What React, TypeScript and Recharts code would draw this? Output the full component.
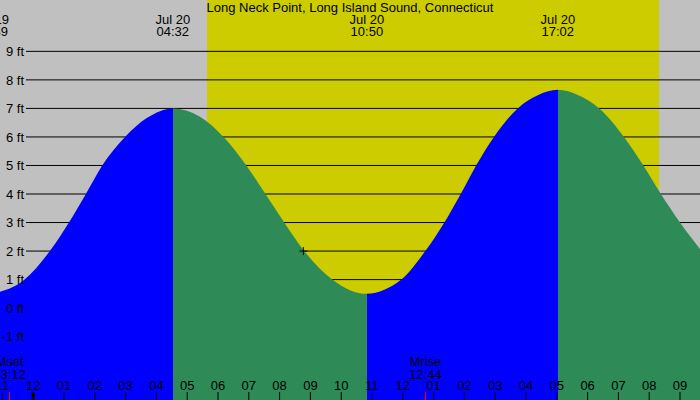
import React from "react";
import { ComposedChart, Area, XAxis, YAxis, CartesianGrid, ReferenceDot } from "recharts";

const FONT = "'Liberation Sans', Arial, Helvetica, sans-serif";
const GRAY = "#c0c0c0";
const YELLOW = "#cccc00";
const BLUE = "#0000ff";
const GREEN = "#2e8b57";

// hours since midnight Jul 20 (negative = Jul 19)
const sampleHours = [-1.35, -0.28, 0.54, 1.16, 1.71, 2.24, 2.98, 3.7, 4.533, 5.4, 6.18, 6.92, 7.54, 8.15, 8.8, 9.71, 10.3, 10.833, 11.4, 11.95, 12.73, 13.35, 13.88, 14.38, 14.96, 15.73, 16.4, 17.033, 17.7, 18.38, 19.18, 19.81, 20.38, 21.0, 21.65];
const sampleFeet = [0.5, 1.0, 2.0, 3.0, 4.0, 5.0, 6.0, 6.67, 7.0, 6.72, 6.0, 5.0, 4.0, 3.0, 2.0, 1.0, 0.62, 0.5, 0.64, 1.0, 2.0, 3.0, 4.0, 5.0, 6.0, 7.0, 7.47, 7.65, 7.46, 7.0, 6.0, 5.0, 4.0, 3.0, 2.07];

const tideHours = [-1.35, 4.533, 10.833, 17.033];
const tideKinds = ["low", "high", "low", "high"];
const tideDates = ["Jul 19", "Jul 20", "Jul 20", "Jul 20"];
const tideTimes = ["22:39", "04:32", "10:50", "17:02"];

const moonHours = [-0.77, 12.733];
const moonNames = ["Mset", "Mrise"];
const moonTimes = ["23:12", "12:44"];

const sunrise = 5.65;
const sunset = 20.32;

const nowHour = 8.77;
const nowFeet = 2.0;

const hourTicks = [-1, 0, 1, 2, 3, 4, 5, 6, 7, 8, 9, 10, 11, 12, 13, 14, 15, 16, 17, 18, 19, 20, 21];
const feetTicks = [-1, 0, 1, 2, 3, 4, 5, 6, 7, 8, 9];

const X_DOMAIN = [-1.078, 21.649];
const Y_DOMAIN = [-3.22, 10.8];

const data = sampleHours.map((h, i) => ({ h, ft: sampleFeet[i] }));

const hMin = sampleHours[0];
const hMax = sampleHours[sampleHours.length - 1];
const off = (h: number) => Math.min(1, Math.max(0, (h - hMin) / (hMax - hMin)));

const stops: { offset: number; color: string }[] = [];
tideHours.forEach((t, i) => {
  const color = tideKinds[i] === "low" ? BLUE : GREEN;
  const end = i + 1 < tideHours.length ? tideHours[i + 1] : hMax;
  stops.push({ offset: off(t), color });
  stops.push({ offset: off(end), color });
});

const fmtHour = (h: number) => {
  const v = ((h % 12) + 12) % 12;
  return String(v === 0 ? 12 : v).padStart(2, "0");
};

function HourTick(props: any) {
  const { x, payload } = props;
  const midnight = payload.value % 24 === 0;
  return (
    <g>
      <text x={x} y={390} textAnchor="middle" fontSize={13} fill="#000" fontFamily={FONT}>
        {fmtHour(payload.value)}
      </text>
      <line x1={x} x2={x} y1={392} y2={400} stroke="#000" strokeWidth={midnight ? 3 : 1} />
    </g>
  );
}

function MoonTick(props: any) {
  const { x, payload } = props;
  const i = moonHours.indexOf(payload.value);
  return (
    <g>
      <text x={x} y={366} textAnchor="middle" fontSize={13} fill="#000" fontFamily={FONT}>
        {moonNames[i]}
      </text>
      <text x={x} y={378.5} textAnchor="middle" fontSize={13} fill="#000" fontFamily={FONT}>
        {moonTimes[i]}
      </text>
      <line x1={x} x2={x} y1={392} y2={400} stroke="#ff0000" strokeWidth={1} />
    </g>
  );
}

function TideTick(props: any) {
  const { x, payload } = props;
  const i = tideHours.indexOf(payload.value);
  return (
    <g>
      <text x={x} y={24.3} textAnchor="middle" fontSize={13} fill="#000" fontFamily={FONT}>
        {tideDates[i]}
      </text>
      <text x={x} y={36} textAnchor="middle" fontSize={13} fill="#000" fontFamily={FONT}>
        {tideTimes[i]}
      </text>
    </g>
  );
}

function FeetTick(props: any) {
  const { y, payload } = props;
  return (
    <text x={24} y={y + 4.7} textAnchor="end" fontSize={13} fill="#000" fontFamily={FONT}>
      {payload.value} ft
    </text>
  );
}

const Cross = (props: any) => {
  const { cx, cy } = props;
  return (
    <g>
      <line x1={cx - 4} x2={cx + 4} y1={cy} y2={cy} stroke="#000" strokeWidth={1} />
      <line x1={cx} x2={cx} y1={cy - 4} y2={cy + 4} stroke="#000" strokeWidth={1} />
    </g>
  );
};

export default function App() {
  return (
    <div style={{ position: "absolute", left: 0, top: 0, width: 700, height: 400 }}>
      <ComposedChart width={700} height={400} data={data} margin={{ top: 0, right: 0, bottom: 0, left: 0 }}>
        <defs>
          <linearGradient id="tideFill" x1="0" y1="0" x2="1" y2="0">
            {stops.map((s, i) => (
              <stop key={i} offset={s.offset} stopColor={s.color} />
            ))}
          </linearGradient>
        </defs>
        <CartesianGrid
          horizontal={false}
          vertical
          verticalValues={[sunrise, sunset]}
          verticalFill={[GRAY, YELLOW, GRAY]}
          stroke="none"
        />
        <CartesianGrid vertical={false} horizontalValues={feetTicks} stroke="#000" x={26} width={674} />
        <XAxis
          dataKey="h"
          type="number"
          domain={X_DOMAIN}
          allowDataOverflow
          ticks={hourTicks}
          interval={0}
          mirror
          axisLine={false}
          tickLine={false}
          tick={HourTick}
        />
        <XAxis
          xAxisId="moon"
          dataKey="h"
          type="number"
          domain={X_DOMAIN}
          allowDataOverflow
          ticks={moonHours}
          interval={0}
          mirror
          axisLine={false}
          tickLine={false}
          tick={MoonTick}
        />
        <XAxis
          xAxisId="tides"
          orientation="top"
          dataKey="h"
          type="number"
          domain={X_DOMAIN}
          allowDataOverflow
          ticks={tideHours}
          interval={0}
          mirror
          axisLine={false}
          tickLine={false}
          tick={TideTick}
        />
        <Area
          type="monotone"
          dataKey="ft"
          stroke="none"
          fill="url(#tideFill)"
          fillOpacity={1}
          baseValue="dataMin"
          dot={false}
          activeDot={false}
          isAnimationActive={false}
        />
        <YAxis
          type="number"
          domain={Y_DOMAIN}
          allowDataOverflow
          ticks={feetTicks}
          interval={0}
          mirror
          axisLine={false}
          tickLine={false}
          tick={FeetTick}
        />
        <ReferenceDot x={nowHour} y={nowFeet} r={4} shape={Cross} />
      </ComposedChart>
      <div
        style={{
          position: "absolute",
          left: 0,
          top: 0,
          width: 700,
          textAlign: "center",
          fontFamily: FONT,
          fontSize: 13,
          lineHeight: "15px",
          color: "#000",
        }}
      >
        Long Neck Point, Long Island Sound, Connecticut
      </div>
    </div>
  );
}
